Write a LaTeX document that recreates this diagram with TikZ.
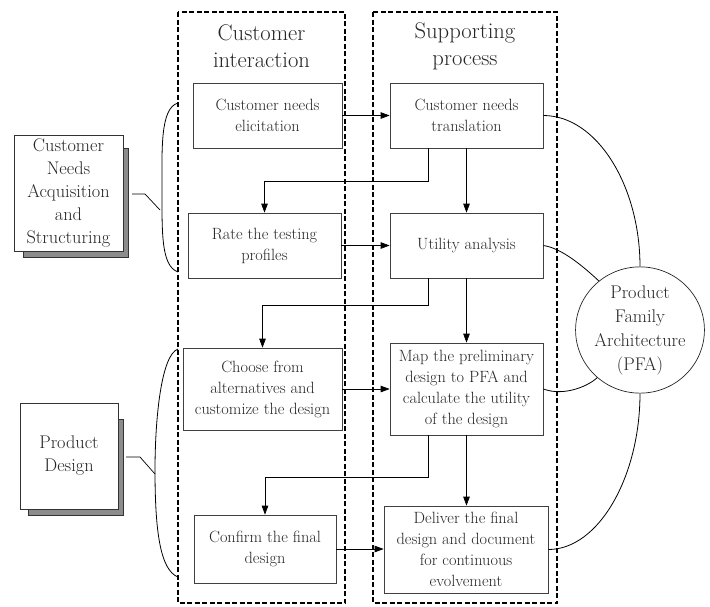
\documentclass[tikz,border=0pt]{standalone}
\usepackage{fontspec}
\usetikzlibrary{arrows.meta,shapes.geometric,calc}
\begin{document}
\begin{tikzpicture}[x=1pt,y=-1pt,
  box/.style={draw=black!75, line width=0.7pt, fill=white, align=center, inner sep=0pt, text=black!85, font=\fontsize{16.3}{21}\selectfont},
  arr/.style={-{Triangle[length=9pt,width=6.5pt]}, line width=0.7pt},
  conn/.style={line width=0.8pt},
  lane/.style={draw, line width=1.7pt, dash pattern=on 5pt off 2.5pt},
  title/.style={align=center, text=black!85, font=\fontsize{22.6}{27}\selectfont},
  side/.style={draw=black!80, line width=0.7pt, fill=white, align=center, inner sep=0pt, text=black!85, font=\fontsize{18.3}{23}\selectfont},
  shade/.style={draw=black!80, line width=0.6pt, fill=black!45}]
\useasboundingbox (0,0) rectangle (710,606);
% lanes
\draw[lane] (178,12) rectangle (345,603);
\draw[lane] (373,12) rectangle (557,603);
\node[title] (t1) at (261.5,46.5) {Customer\\interaction};
\node[title] (t2) at (465,46.5) {Supporting\\process};
% boxes
\node[box, minimum width=149pt, minimum height=65pt] (elic) at (267.5,115.5) {Customer needs\\elicitation};
\node[box, minimum width=153pt, minimum height=65pt] (trans) at (466.5,115.5) {Customer needs\\translation};
\node[box, minimum width=153pt, minimum height=65pt] (rate) at (264.5,245.5) {Rate the testing\\profiles};
\node[box, minimum width=153pt, minimum height=65pt] (util) at (466.5,245.5) {Utility analysis};
\node[box, minimum width=159pt, minimum height=82pt] (choose) at (262.5,389) {Choose from\\alternatives and\\customize the design};
\node[box, minimum width=153pt, minimum height=92pt] (map) at (466.5,389) {Map the preliminary\\design to PFA and\\calculate the utility\\of the design};
\node[box, minimum width=142pt, minimum height=68pt] (confirm) at (265,549) {Confirm the final\\design};
\node[box, minimum width=164pt, minimum height=87pt] (deliver) at (466,549.5) {Deliver the final\\design and document\\for continuous\\evolvement};
% PFA
\node[ellipse, draw=black!85, line width=0.7pt, fill=white, minimum width=126pt, minimum height=114pt, inner sep=0pt, align=center, text=black!85, font=\fontsize{18.3}{24}\selectfont] (pfa) at (640,330) {Product\\Family\\Architecture\\(PFA)};
% side boxes
\draw[shade] (23,148) rectangle (128,257);
\node[side, minimum width=109pt, minimum height=116pt] (cnas) at (68.5,193) {Customer\\Needs\\Acquisition\\and\\Structuring};
\draw[shade] (28,419) rectangle (123,515);
\node[side, minimum width=98pt, minimum height=106pt] (pd) at (69,456) {Product\\Design};
% arrows
\draw[arr] (elic.east) -- (trans.west);
\draw[arr] (rate.east) -- (util.west);
\draw[arr] (choose.east) -- (map.west);
\draw[arr] (confirm.east) -- (confirm.east -| deliver.west);
\draw[arr] (trans.south) -- (util.north);
\draw[arr] (util.south) -- (map.north);
\draw[arr] (map.south) -- (map.south |- deliver.north);
\draw[arr] ([xshift=-38.5pt]trans.south) -- ++(0,33) -| (rate.north);
\draw[arr] ([xshift=-38.5pt]util.south) -- ++(0,27) -| (choose.north);
\draw[arr] ([xshift=-38.5pt]map.south) -- ++(0,42) -| (confirm.north);
% PFA links
\draw[conn] (trans.east) .. controls (597,115.5) and (640,186) .. (pfa.north);
\draw[conn] (util.east) .. controls (562,248) and (585,268) .. (pfa.130);
\draw[conn] (map.east) .. controls (565,397) and (590,385) .. (pfa.228);
\draw[conn] (deliver.east) .. controls (599,549.5) and (640,476) .. (pfa.south);
% brackets
\coordinate (b1t) at (178,103);
\coordinate (b1m) at (162,190);
\coordinate (b1b) at (178,272);
\draw[conn] (b1t) .. controls (160,108) and (162,150) .. (b1m) .. controls (162,232) and (161,266) .. (b1b);
\coordinate (k1a) at (132,194);
\coordinate (k1b) at (145,194);
\coordinate (k1c) at (160,210);
\draw[line width=0.7pt] (k1a) -- (k1b) -- (k1c);
\coordinate (b2t) at (178,349);
\coordinate (b2m) at (155,470);
\coordinate (b2b) at (178,577);
\draw[conn] (b2t) .. controls (161,355) and (155,420) .. (b2m) .. controls (155,530) and (160,570) .. (b2b);
\coordinate (k2a) at (126,457);
\coordinate (k2b) at (140,457);
\coordinate (k2c) at (155,474);
\draw[line width=0.7pt] (k2a) -- (k2b) -- (k2c);
\end{tikzpicture}
\end{document}
